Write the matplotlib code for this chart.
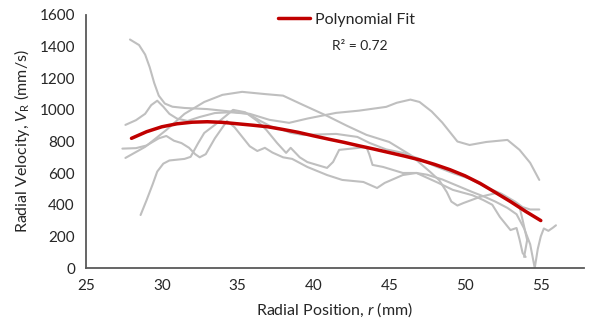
import numpy as np
import matplotlib
matplotlib.use("Agg")
import matplotlib.pyplot as plt

# ── data ─────────────────────────────────────────────────────────────────────
# individual runs (radial position r in mm, radial velocity in mm/s)
run1_r = [27.9, 28.5, 28.9, 29.2, 29.5, 29.8, 30.2, 30.7, 31.5, 33.0, 34.5, 35.7,
          36.5, 37.2, 37.8, 38.5, 39.3, 40.5, 41.5, 42.9, 43.7, 44.8, 45.9, 47.0,
          48.0, 49.2, 50.3, 51.4, 52.4, 53.3, 53.8, 54.3, 54.9]
run1_v = [1445, 1410, 1350, 1270, 1170, 1090, 1040, 1020, 1012, 1005, 990, 975,
          930, 895, 880, 855, 842, 845, 848, 829, 791, 750, 728, 690,
          645, 600, 565, 510, 470, 420, 385, 370, 370]

run2_r = [27.6, 28.3, 28.9, 29.3, 29.7, 30.1, 30.5, 31.0, 31.7, 32.5, 33.5, 34.5,
          35.8, 37.1, 38.4, 39.6, 41.5, 43.0, 44.8, 45.5, 46.4, 47.0, 47.8, 48.5,
          49.5, 50.3, 51.4, 52.8, 53.6, 54.3, 54.9]
run2_v = [905, 935, 975, 1030, 1058, 1020, 975, 945, 930, 955, 980, 985,
          975, 937, 918, 945, 981, 995, 1019, 1045, 1065, 1050, 990, 920,
          800, 778, 797, 810, 747, 665, 557]

run3_r = [27.6, 28.9, 30.3, 31.5, 32.8, 34.0, 35.3, 36.8, 38.0, 39.3, 40.9, 42.2,
          43.5, 45.0, 46.4, 47.7, 48.3, 48.8, 49.1, 49.5, 49.9, 51.0, 52.1, 53.0,
          53.6, 53.8, 54.1, 53.9]
run3_v = [696, 766, 873, 975, 1050, 1095, 1114, 1100, 1090, 1032, 962, 900,
          842, 797, 715, 608, 555, 480, 420, 395, 411, 450, 475, 430,
          386, 304, 177, 70]

run4_r = [28.6, 29.0, 29.4, 29.7, 30.1, 30.5, 31.5, 31.9, 32.4, 32.8, 33.5, 34.2,
          34.7, 35.5, 36.3, 36.9, 37.6, 38.2, 38.5, 39.1, 39.6, 40.3, 40.9, 41.3,
          41.7, 42.9, 43.5, 43.7, 43.9, 44.6, 45.9, 46.8, 48.2, 49.2, 50.5, 51.2,
          51.8, 52.3, 53.0, 53.4, 53.6, 53.8, 54.0]
run4_v = [335, 430, 530, 610, 660, 680, 690, 703, 790, 854, 905, 960,
          1000, 985, 930, 873, 791, 728, 760, 700, 670, 650, 633, 671,
          747, 759, 766, 715, 652, 639, 601, 601, 540, 494, 460, 430,
          400, 323, 240, 253, 180, 95, 70]

run5_r = [27.4, 28.3, 29.0, 29.8, 30.3, 30.8, 31.3, 31.8, 32.2, 32.5, 32.9, 33.5,
          34.3, 34.8, 35.3, 35.8, 36.3, 36.8, 37.3, 38.0, 38.6, 39.6, 40.9, 41.9,
          43.3, 44.2, 44.7, 45.9, 46.8, 47.5, 48.5, 49.5, 50.5, 51.3, 52.0, 52.8,
          53.4, 53.9, 54.3, 54.6, 54.8, 55.0, 55.2, 55.5, 55.8, 56.0]
run5_v = [755, 758, 775, 820, 835, 805, 790, 760, 720, 700, 720, 820,
          930, 890, 830, 770, 740, 760, 730, 700, 690, 639, 588, 557,
          544, 506, 538, 588, 601, 590, 560, 520, 480, 450, 420, 380,
          340, 250, 150, 0, 120, 200, 250, 235, 255, 270]

runs = [(run1_r, run1_v), (run2_r, run2_v), (run3_r, run3_v),
        (run4_r, run4_v), (run5_r, run5_v)]

# polynomial fit curve
fit_r = [28.0, 29.0, 30.0, 31.0, 32.0, 33.0, 34.0, 35.0, 36.0, 37.0, 38.0, 39.0,
         40.0, 41.0, 42.0, 43.0, 44.0, 45.0, 46.0, 47.0, 48.0, 49.0, 50.0, 51.0,
         52.0, 53.0, 54.0, 55.0]
fit_v = [820, 862, 893, 912, 922, 925, 921, 912, 903, 893, 876, 858,
         836, 815, 795, 773, 752, 730, 708, 684, 655, 622, 583, 535,
         478, 420, 358, 300]
r2_label = "R² = 0.72"

x_ticks = [25, 30, 35, 40, 45, 50, 55]
y_ticks = [0, 200, 400, 600, 800, 1000, 1200, 1400, 1600]

# ── plot ─────────────────────────────────────────────────────────────────────
plt.rcParams["font.family"] = ["Lato", "DejaVu Sans"]
plt.rcParams["mathtext.fontset"] = "custom"
plt.rcParams["mathtext.rm"] = "Lato"
plt.rcParams["mathtext.it"] = "Lato:italic"

W, H = 595, 329
fig = plt.figure(figsize=(W / 100, H / 100), dpi=100)
ax = fig.add_axes([86 / W, (H - 268) / H, (584 - 86) / W, (268 - 15) / H])

for r, v in runs:
    ax.plot(r, v, color="#BFBFBF", lw=1.5, solid_joinstyle="round",
            solid_capstyle="round", zorder=2)
ax.plot(fit_r, fit_v, color="#C00000", lw=2.5, solid_capstyle="round",
        zorder=3, label="Polynomial Fit")

ax.set_xlim(25, 57.85)
ax.set_ylim(0, 1600)
ax.set_xticks(x_ticks)
ax.set_yticks(y_ticks)
ax.tick_params(length=0, labelsize=11, colors="#262626", pad=8)

for side in ("top", "right"):
    ax.spines[side].set_visible(False)
for side in ("left", "bottom"):
    ax.spines[side].set_color("#595959")
    ax.spines[side].set_linewidth(1.3)

ax.set_xlabel("Radial Position, $\\mathit{r}$ (mm)", fontsize=11.5,
              color="#262626", labelpad=5)
ax.set_ylabel("Radial Velocity, $\\mathit{V}_\\mathrm{R}$ (mm/s)", fontsize=11.5,
              color="#262626", labelpad=5)

leg = fig.legend(loc="center left", bbox_to_anchor=(278 / W, 1 - 20 / H),
                 frameon=False, fontsize=11.5, handlelength=2.0,
                 handletextpad=0.3, borderpad=0, borderaxespad=0)
for t in leg.get_texts():
    t.set_color("#262626")
fig.text(360 / W, 1 - 46 / H, r2_label, ha="center", va="center",
         fontsize=10, color="#262626")

fig.savefig("out.png", dpi=100)
